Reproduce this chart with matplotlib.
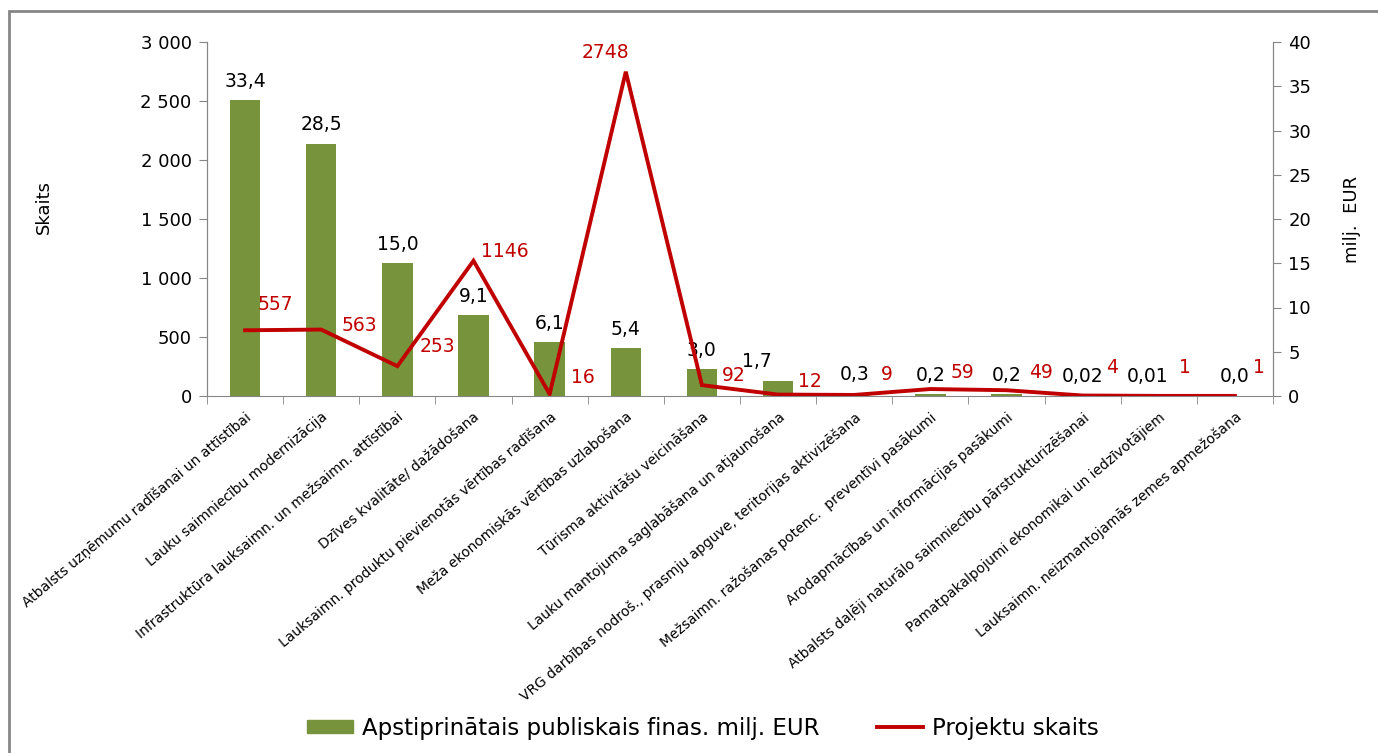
import matplotlib

matplotlib.use("Agg")
import matplotlib.pyplot as plt  # noqa: E402
from matplotlib.patches import Rectangle  # noqa: E402
from matplotlib.ticker import FuncFormatter  # noqa: E402

categories = [
    "Atbalsts uzņēmumu radīšanai un attīstībai",
    "Lauku saimniecību modernizācija",
    "Infrastruktūra lauksaimn. un mežsaimn. attīstībai",
    "Dzīves kvalitāte/ dažādošana",
    "Lauksaimn. produktu pievienotās vērtības radīšana",
    "Meža ekonomiskās vērtības uzlabošana",
    "Tūrisma aktivitāšu veicināšana",
    "Lauku mantojuma saglabāšana un atjaunošana",
    "VRG darbības nodroš., prasmju apguve, teritorijas aktivizēšana",
    "Mežsaimn. ražošanas potenc.  preventīvi pasākumi",
    "Arodapmācības un informācijas pasākumi",
    "Atbalsts daļēji naturālo saimniecību pārstrukturizēšanai",
    "Pamatpakalpojumi ekonomikai un iedzīvotājiem",
    "Lauksaimn. neizmantojamās zemes apmežošana",
]
funding_meur = [33.4, 28.5, 15.0, 9.1, 6.1, 5.4, 3.0, 1.7, 0.3, 0.2, 0.2, 0.02, 0.01, 0.0]
funding_labels = ["33,4", "28,5", "15,0", "9,1", "6,1", "5,4", "3,0", "1,7",
                  "0,3", "0,2", "0,2", "0,02", "0,01", "0,0"]
project_count = [557, 563, 253, 1146, 16, 2748, 92, 12, 9, 59, 49, 4, 1, 1]

# label nudges in pixels (dx, dy up)
bar_label_dx = [0, 0, 0, 0, 0, 0, 0, -21, 0, 0, 0, 0, -11, 0]
line_label_off = [(30, 26), (38, 4), (40, 20), (31, 9), (33, 17), (-20, 19), (32, 10),
                  (32, 13), (33, 20), (32, 17), (35, 18), (29, 28), (26, 28), (24, 28)]

GREEN = "#77933C"
RED = "#C00000"
GREY = "#868686"
PX = 72 / 100  # pixels -> points at dpi 100

plt.rcParams["font.family"] = ["DejaVu Sans"]

fig = plt.figure(figsize=(13.78, 7.53), dpi=100)
ax = fig.add_axes([207 / 1378, 1 - 396 / 753, (1273 - 207) / 1378, (396 - 42) / 753])
ax2 = ax.twinx()

x = list(range(len(categories)))

# bars on the EUR axis (drawn on the right), line on the count axis (left)
ax.bar(x, funding_meur, width=0.4, color=GREEN, zorder=2)
ax.set_ylim(0, 40)
ax.set_xlim(-0.5, len(categories) - 0.5)
ax.yaxis.tick_right()
ax.yaxis.set_label_position("right")
ax.set_yticks(range(0, 41, 5))
ax.set_ylabel("milj.  EUR", fontsize=13)
ax.yaxis.set_label_coords(1.066, 0.5)

ax2.plot(x, project_count, color=RED, lw=2.8, zorder=3, solid_joinstyle="miter")
ax2.set_ylim(0, 3000)
ax2.yaxis.tick_left()
ax2.yaxis.set_label_position("left")
ax2.set_yticks(range(0, 3001, 500))
ax2.yaxis.set_major_formatter(FuncFormatter(lambda v, _: f"{int(v):,}".replace(",", " ")))
ax2.set_ylabel("Skaits", fontsize=13)
ax2.yaxis.set_label_coords(-0.145, 0.534)

for a in (ax, ax2):
    a.spines["top"].set_visible(False)
    for s in ("left", "right", "bottom"):
        a.spines[s].set_color(GREY)
    a.tick_params(axis="y", colors=GREY, labelcolor="black", labelsize=13, length=6, pad=5)
ax2.spines["bottom"].set_visible(False)

# category tick marks between bars, labels at bar centres
ax.set_xticks([i - 0.5 for i in range(len(categories) + 1)], minor=True)
ax.set_xticks(x)
ax.set_xticklabels(categories, rotation=40, ha="right", va="top",
                   rotation_mode="anchor", fontsize=10)
ax.tick_params(axis="x", which="major", length=0, pad=10)
ax.tick_params(axis="x", which="minor", length=6, color=GREY)

for i, (v, lab) in enumerate(zip(funding_meur, funding_labels)):
    ax.annotate(lab, (i, v), xytext=(bar_label_dx[i] * PX, 19 * PX),
                textcoords="offset points", ha="center", va="center",
                fontsize=13.5, color="black", zorder=5)

for i, v in enumerate(project_count):
    dx, dy = line_label_off[i]
    ax2.annotate(str(v), (i, v), xytext=(dx * PX, dy * PX),
                 textcoords="offset points", ha="center", va="center",
                 fontsize=13.5, color=RED, zorder=5)

handles = [
    Rectangle((0, 0), 1, 1, color=GREEN),
    plt.Line2D([0], [0], color=RED, lw=2.8),
]
fig.legend(handles, ["Apstiprinātais publiskais finas. milj. EUR", "Projektu skaits"],
           loc="center", bbox_to_anchor=(703 / 1378, 1 - 728 / 753), ncol=2,
           frameon=False, fontsize=16.5, handlelength=2.0, handleheight=0.5,
           handletextpad=0.4, columnspacing=2.5)

# outer chart frame (left and top edges visible in the crop)
fig.patches.append(Rectangle((9 / 1378, -0.05), 1.1, 1 - 11 / 753 + 0.05,
                             transform=fig.transFigure, fill=False,
                             edgecolor=GREY, lw=2))

fig.savefig("out.png", dpi=100)
